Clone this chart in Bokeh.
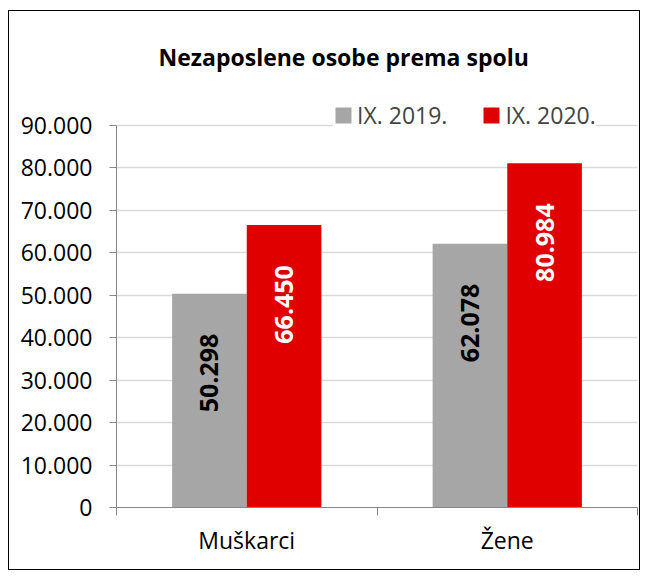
import math
from bokeh.plotting import figure
from bokeh.models import (Range1d, LinearAxis, FixedTicker, ColumnDataSource,
                          Legend, LegendItem)
from bokeh.core.properties import value
from bokeh.embed import file_html
from bokeh.resources import INLINE

categories = ["Muškarci", "Žene"]
series_names = ["IX. 2019.", "IX. 2020."]
values_2019 = [50298, 62078]
values_2020 = [66450, 80984]
y_ticks = [0, 10000, 20000, 30000, 40000, 50000, 60000, 70000, 80000, 90000]
y_tick_labels = ["0", "10.000", "20.000", "30.000", "40.000", "50.000",
                 "60.000", "70.000", "80.000", "90.000"]

GREY = "#A6A6A6"
RED = "#E00000"
AXIS = "#868686"
FONT = "Open Sans"

bw = 0.2865
off = bw / 2


def fmt(v):
    return f"{v:,}".replace(",", ".")


n = len(categories)
centers = [i + 0.5 for i in range(n)]
source = ColumnDataSource(dict(
    x2019=[c - off for c in centers],
    x2020=[c + off for c in centers],
    v2019=values_2019,
    v2020=values_2020,
    l2019=[fmt(v) for v in values_2019],
    l2020=[fmt(v) for v in values_2020],
))

p = figure(x_range=Range1d(0, n), y_range=Range1d(0, 96000),
           width=632, height=560, output_backend="svg", toolbar_location=None,
           x_axis_location=None, min_border_left=107, min_border_right=4,
           min_border_top=88, min_border_bottom=64)
p.margin = (10, 0, 0, 8)
p.styles = {"border": "1px solid black"}
p.outline_line_color = None
p.background_fill_color = "white"
p.border_fill_color = "white"

# title
p.title.text = "Nezaposlene osobe prema spolu"
p.title.align = "left"
p.title.offset = 42
p.title.standoff = 54
p.title.text_font = FONT
p.title.text_font_size = "23px"
p.title.text_font_style = "bold"
p.title.text_color = "black"

# y axis
p.yaxis.bounds = (0, 90000)
p.yaxis.ticker = FixedTicker(ticks=y_ticks)
p.yaxis.major_label_overrides = dict(zip(y_ticks, y_tick_labels))
p.yaxis.minor_tick_line_color = None
p.yaxis.major_tick_out = 7
p.yaxis.major_tick_in = 0
p.yaxis.major_tick_line_color = AXIS
p.yaxis.axis_line_color = AXIS
p.yaxis.major_label_text_font = FONT
p.yaxis.major_label_text_font_size = "23px"
p.yaxis.major_label_text_color = "black"
p.yaxis.major_label_standoff = 17

p.ygrid.ticker = FixedTicker(ticks=y_ticks)
p.ygrid.grid_line_color = "#D9D9D9"
p.ygrid.grid_line_width = 1.5
p.xgrid.visible = False

# x axis with ticks between categories
xa = LinearAxis(
    ticker=FixedTicker(ticks=centers, minor_ticks=list(range(n + 1))),
    major_label_overrides={c: cat for c, cat in zip(centers, categories)},
    major_tick_line_color=None, major_tick_out=0, major_tick_in=0,
    minor_tick_in=0, minor_tick_out=8, minor_tick_line_color=AXIS,
    axis_line_color=AXIS, major_label_standoff=8,
    major_label_text_font=FONT, major_label_text_font_size="23px",
    major_label_text_color="black")
p.add_layout(xa, "below")

r1 = p.vbar(x="x2019", top="v2019", width=bw,
            source=source, fill_color=GREY, line_color=None)
r2 = p.vbar(x="x2020", top="v2020", width=bw,
            source=source, fill_color=RED, line_color=None)

p.text(x="x2019", y="v2019", text="l2019",
       angle=math.pi / 2, text_align="right", text_baseline="middle",
       y_offset=40, text_font=value(FONT), text_font_style="bold",
       text_font_size="25px", text_color="black", source=source)
p.text(x="x2020", y="v2020", text="l2020",
       angle=math.pi / 2, text_align="right", text_baseline="middle",
       y_offset=40, text_font=value(FONT), text_font_style="bold",
       text_font_size="25px", text_color="white", source=source)

legend = Legend(items=[LegendItem(label=series_names[0], renderers=[r1]),
                       LegendItem(label=series_names[1], renderers=[r2])],
                orientation="horizontal", location=(217, 376),
                background_fill_color="white", background_fill_alpha=1,
                border_line_color=None, glyph_width=20, glyph_height=20,
                label_text_font=FONT, label_text_font_size="23px",
                label_standoff=4, spacing=34, padding=2, margin=0,
                label_height=20)
p.add_layout(legend, "center")

open("out.html", "w").write(file_html(p, INLINE))
